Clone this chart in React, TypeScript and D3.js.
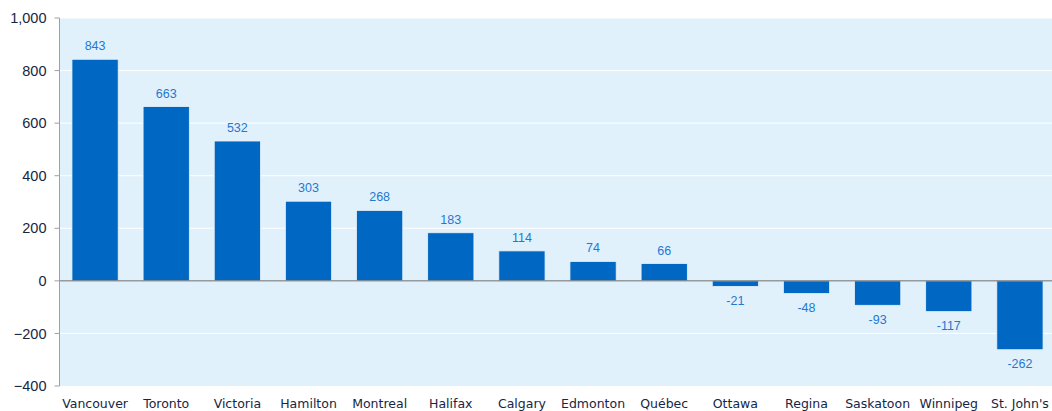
import React from "react";
import * as d3 from "d3";

const categories = ["Vancouver","Toronto","Victoria","Hamilton","Montreal","Halifax","Calgary","Edmonton","Québec","Ottawa","Regina","Saskatoon","Winnipeg","St. John's"];
const values = [843,663,532,303,268,183,114,74,66,-21,-48,-93,-117,-262];
const yTicks = [-400,-200,0,200,400,600,800,1000];

const W = 1052, H = 411;
const left = 59.5, right = 1055.5, top = 18, bottom = 386;

export default function App() {
  const x = d3.scaleBand<string>().domain(categories).range([left, right]).paddingInner(0.35).paddingOuter(0.175);
  const y = d3.scaleLinear().domain([-400, 1000]).range([bottom, top]);
  const fmt = d3.format(",");
  return (
    <svg width={W} height={H} style={{ position: "absolute", left: 0, top: 0 }}>
      <rect x={left} y={top} width={right - left} height={bottom - top} fill="#E1F1FC" />
      {yTicks.map(t => (
        <g key={t}>
          {t !== 0 && t !== -400 && <line x1={left} x2={right} y1={y(t)} y2={y(t)} stroke="#FFFFFF" strokeWidth={1} />}
          <line x1={left - 5} x2={left} y1={y(t)} y2={y(t)} stroke="#A0A0A0" />
          <text x={left - 13} y={y(t)} dy="0.35em" textAnchor="end" fontFamily="Liberation Sans, Arial, sans-serif" fontSize={14.5} fill="#162645">{fmt(t)}</text>
        </g>
      ))}
      {categories.map((c, i) => {
        const v = values[i];
        const y0 = y(0), y1 = y(v);
        return (
          <g key={c}>
            <rect x={x(c)} y={Math.min(y0, y1)} width={x.bandwidth()} height={Math.abs(y1 - y0)} fill="#0068C2" stroke="#E8F2FB" strokeWidth={0.8} />
            <text x={(x(c) as number) + x.bandwidth() / 2} y={v >= 0 ? y1 - 9 : y1 + 9} dy={v >= 0 ? "0" : "0.75em"} textAnchor="middle" fontFamily="Liberation Sans, Arial, sans-serif" fontSize={12.5} fill="#1F78D1">{v}</text>
            <text x={(x(c) as number) + x.bandwidth() / 2} y={H - 3} textAnchor="middle" fontFamily="DejaVu Sans, Verdana, sans-serif" fontSize={12.5} fill="#162645">{c}</text>
          </g>
        );
      })}
      <line x1={left} x2={right} y1={y(0)} y2={y(0)} stroke="#6E6E6E" strokeWidth={1} />
      <line x1={left} x2={left} y1={top} y2={bottom} stroke="#A0A0A0" strokeWidth={1} />
    </svg>
  );
}
